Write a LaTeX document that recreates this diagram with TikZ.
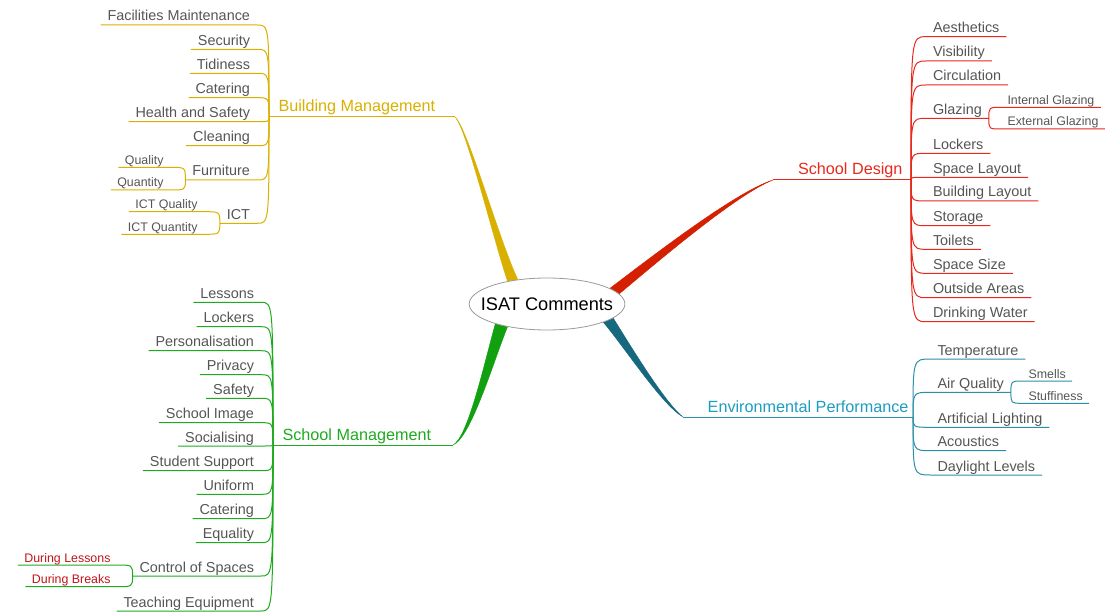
\documentclass[tikz,border=0pt]{standalone}
\usepackage{fontspec}
\setmainfont{Liberation Sans}
\usetikzlibrary{shapes.geometric,backgrounds}

\definecolor{txtgrey}{HTML}{555555}
\definecolor{hubgrey}{HTML}{9A9A9A}
\definecolor{bmgold}{HTML}{D9B000}
\definecolor{sdred}{HTML}{E8281C}
\definecolor{sdbranch}{HTML}{D42000}
\definecolor{epteal}{HTML}{2A8FA8}
\definecolor{eptitle}{HTML}{1D9CC0}
\definecolor{epbranch}{HTML}{15687E}
\definecolor{smgreen}{HTML}{1EAA1E}
\definecolor{smbranch}{HTML}{10A010}
\definecolor{subred}{HTML}{C0141A}

\tikzset{
  leaf/.style={font=\fontsize{14.4}{17}\selectfont,text=txtgrey,inner xsep=6.5pt,inner ysep=1.5pt,text height=10.5pt,text depth=2pt},
  leafL/.style={leaf,anchor=south east},
  leafR/.style={leaf,anchor=south west},
  subleaf/.style={font=\fontsize{12.4}{15}\selectfont,text=txtgrey,inner xsep=6pt,inner ysep=1pt,text height=9pt,text depth=1.5pt},
  subL/.style={subleaf,anchor=south east},
  subR/.style={subleaf,anchor=south west},
  title/.style={font=\fontsize{16.2}{19}\selectfont,inner ysep=2pt,text height=12pt,text depth=2.5pt},
  hub/.style={ellipse,draw=hubgrey,fill=white,line width=.8pt,minimum width=154pt,minimum height=52pt,inner xsep=-11pt,inner ysep=0pt,font=\fontsize{18.2}{21}\selectfont},
  twigL/.style={to path={.. controls (\tikztostart |- \tikztotarget.south east) .. (\tikztotarget.south east) -- (\tikztotarget.south west)}},
  twigR/.style={to path={.. controls (\tikztostart |- \tikztotarget.south west) .. (\tikztotarget.south west) -- (\tikztotarget.south east)}}
}

\begin{document}
\begin{tikzpicture}[x=1pt,y=-1pt,line width=1pt]
  \useasboundingbox (0,0) rectangle (1105,612);

  \node[hub] (isat) at (547,304) {ISAT Comments};

  % Building Management
  \coordinate (bmJ)   at (269,117);
  \coordinate (bmTip) at (455,117);
  \node[title,anchor=south west,inner xsep=9pt,text=bmgold] (bm) at (bmJ) {Building Management};
  \node[leafL] (bmFac) at (257,25)    {Facilities Maintenance};
  \node[leafL] (bmSec) at (257,49.3)  {Security};
  \node[leafL] (bmTid) at (257,73.3)  {Tidiness};
  \node[leafL] (bmCat) at (257,97.7)  {Catering};
  \node[leafL] (bmHea) at (257,121.7) {Health and Safety};
  \node[leafL] (bmCle) at (257,145.7) {Cleaning};
  \node[leafL] (bmFur) at (257,180)   {Furniture};
  \node[leafL] (bmIct) at (257,223.3) {ICT};
  \node[subL] (bmFurQl) at (170,167.3) {Quality};
  \node[subL] (bmFurQn) at (170,190)   {Quantity};
  \node[subL] (bmIctQl) at (204,211.7) {ICT Quality};
  \node[subL] (bmIctQn) at (204,234.3) {ICT Quantity};

  % School Design
  \coordinate (sdJ)   at (911,180);
  \coordinate (sdTip) at (773,180);
  \node[title,anchor=south east,inner xsep=8pt,text=sdred] (sd) at (sdJ) {School Design};
  \node[leafR] (sdAes) at (926,36.7)  {Aesthetics};
  \node[leafR] (sdVis) at (926,61)    {Visibility};
  \node[leafR] (sdCir) at (926,85)    {Circulation};
  \node[leafR] (sdGla) at (926,118.3) {Glazing};
  \node[leafR] (sdLoc) at (926,153.3) {Lockers};
  \node[leafR] (sdSpL) at (926,177.3) {Space Layout};
  \node[leafR] (sdBuL) at (926,201)   {Building Layout};
  \node[leafR] (sdSto) at (926,225.7) {Storage};
  \node[leafR] (sdToi) at (926,249.3) {Toilets};
  \node[leafR] (sdSpS) at (926,273.3) {Space Size};
  \node[leafR] (sdOut) at (926,297.7) {Outside Areas};
  \node[leafR] (sdDri) at (926,321.7) {Drinking Water};
  \node[subR] (sdGlaIn) at (1001,107.3) {Internal Glazing};
  \node[subR] (sdGlaEx) at (1001,129)   {External Glazing};

  % Environmental Performance
  \coordinate (epJ)   at (913,417);
  \coordinate (epTip) at (683,417);
  \node[title,anchor=south east,inner xsep=4pt,text=eptitle] (ep) at (epJ) {Environmental Performance};
  \node[leafR] (epTem) at (930.5,359)   {Temperature};
  \node[leafR] (epAir) at (930.5,392.3) {Air Quality};
  \node[leafR] (epArt) at (930.5,427.3) {Artificial Lighting};
  \node[leafR] (epAco) at (930.5,450.7) {Acoustics};
  \node[leafR] (epDay) at (930.5,475)   {Daylight Levels};
  \node[subR] (epAirSm) at (1022,381)   {Smells};
  \node[subR] (epAirSt) at (1022,403.3) {Stuffiness};

  % School Management
  \coordinate (smJ)   at (273,445);
  \coordinate (smTip) at (453,445);
  \node[title,anchor=south west,inner xsep=9pt,text=smgreen] (sm) at (smJ) {School Management};
  \node[leafL] (smLes) at (261,302.3) {Lessons};
  \node[leafL] (smLoc) at (261,326.7) {Lockers};
  \node[leafL] (smPer) at (261,350.7) {Personalisation};
  \node[leafL] (smPri) at (261,374.7) {Privacy};
  \node[leafL] (smSaf) at (261,398.3) {Safety};
  \node[leafL] (smImg) at (261,422.7) {School Image};
  \node[leafL] (smSoc) at (261,446)   {Socialising};
  \node[leafL] (smStu) at (261,470.7) {Student Support};
  \node[leafL] (smUni) at (261,494.3) {Uniform};
  \node[leafL] (smCat) at (261,518.7) {Catering};
  \node[leafL] (smEqu) at (261,542.7) {Equality};
  \node[leafL] (smCon) at (261,576)   {Control of Spaces};
  \node[leafL] (smTea) at (261,611)   {Teaching Equipment};
  \node[subL,text=subred] (smConLe) at (117,565)   {During Lessons};
  \node[subL,text=subred] (smConBr) at (117,586.7) {During Breaks};

  % main branches
  \begin{scope}[on background layer,line width=.6pt]
    \filldraw[bmgold] (isat.150) .. controls (493,238) and (466,127) .. (bmTip)
      .. controls (467,126) and (499,240) .. (isat.140) -- cycle;
    \filldraw[sdbranch] (isat.14) .. controls (650,258) and (735,192) .. (sdTip)
      .. controls (737,194) and (656,263) .. (isat.8) -- cycle;
    \filldraw[epbranch] (isat.-18) .. controls (625,348) and (662,405) .. (epTip)
      .. controls (665,403) and (630,345) .. (isat.-12) -- cycle;
    \filldraw[smbranch] (isat.201) .. controls (485,360) and (468,438) .. (smTip)
      .. controls (471,438) and (494,360) .. (isat.210) -- cycle;
  \end{scope}
  \draw[bmgold]   (bmTip) -- (bmJ);
  \draw[sdred]    (sdTip) -- (sdJ);
  \draw[epteal]   (epTip) -- (epJ);
  \draw[smgreen]  (smTip) -- (smJ);

  % twigs
  \path[bmgold] (bmJ) edge[twigL] (bmFac) edge[twigL] (bmSec) edge[twigL] (bmTid)
        edge[twigL] (bmCat) edge[twigL] (bmHea) edge[twigL] (bmCle)
        edge[twigL] (bmFur) edge[twigL] (bmIct)
    (bmFur.south west) edge[twigL] (bmFurQl) edge[twigL] (bmFurQn)
    (bmIct.south west) edge[twigL] (bmIctQl) edge[twigL] (bmIctQn);
  \path[sdred] (sdJ) edge[twigR] (sdAes) edge[twigR] (sdVis) edge[twigR] (sdCir)
        edge[twigR] (sdGla) edge[twigR] (sdLoc) edge[twigR] (sdSpL)
        edge[twigR] (sdBuL) edge[twigR] (sdSto) edge[twigR] (sdToi)
        edge[twigR] (sdSpS) edge[twigR] (sdOut) edge[twigR] (sdDri)
    (sdGla.south east) edge[twigR] (sdGlaIn) edge[twigR] (sdGlaEx);
  \path[epteal] (epJ) edge[twigR] (epTem) edge[twigR] (epAir) edge[twigR] (epArt)
        edge[twigR] (epAco) edge[twigR] (epDay)
    (epAir.south east) edge[twigR] (epAirSm) edge[twigR] (epAirSt);
  \path[smgreen] (smJ) edge[twigL] (smLes) edge[twigL] (smLoc) edge[twigL] (smPer)
        edge[twigL] (smPri) edge[twigL] (smSaf) edge[twigL] (smImg)
        edge[twigL] (smSoc) edge[twigL] (smStu) edge[twigL] (smUni)
        edge[twigL] (smCat) edge[twigL] (smEqu) edge[twigL] (smCon)
        edge[twigL] (smTea)
    (smCon.south west) edge[twigL] (smConLe) edge[twigL] (smConBr);
\end{tikzpicture}
\end{document}
